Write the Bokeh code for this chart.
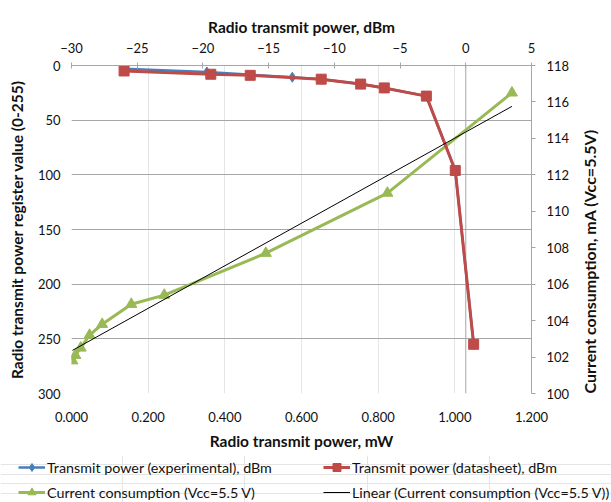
import math
import numpy as np
from bokeh.plotting import figure
from bokeh.layouts import column
from bokeh.models import (Range1d, LinearAxis, FixedTicker, NumeralTickFormatter,
                          Legend, LegendItem, Grid)
from bokeh.embed import file_html
from bokeh.resources import INLINE

# ---------------- data ----------------
dbm_experimental = [-26.0, -19.7, -13.2, -11.0, -8.0, -6.2, -3.0, -0.8, 0.6]
reg_experimental = [3, 6, 10.7, 12.5, 17, 20.5, 28, 96, 255]

dbm_datasheet = [-26.0, -19.4, -16.4, -11.0, -8.0, -6.2, -3.0, -0.8, 0.6]
reg_datasheet = [5, 8, 9, 12.5, 17, 20.5, 28, 96, 255]

mw_current = [0.0025, 0.010, 0.024, 0.047, 0.080, 0.156, 0.242, 0.507, 0.824, 1.149]
ma_current = [101.8, 102.1, 102.5, 103.2, 103.8, 104.9, 105.4, 107.7, 111.0, 116.5]

mw_ticks = [0.0, 0.2, 0.4, 0.6, 0.8, 1.0, 1.2]
dbm_ticks = [-30, -25, -20, -15, -10, -5, 0, 5]
reg_ticks = [0, 50, 100, 150, 200, 250, 300]
ma_ticks = [100, 102, 104, 106, 108, 110, 112, 114, 116, 118]

# linear trend of the current series (as Excel's "Linear" trendline)
slope, intercept = np.polyfit(mw_current, ma_current, 1)
trend_x = [min(mw_current), max(mw_current)]
trend_y = [slope * v + intercept for v in trend_x]

FONT = "Lato"
TXT = "#111111"
GRID = "#a6a6a6"
BLUE = "#4a7ebb"
RED = "#be4b48"
GREEN = "#98b954"

p = figure(width=611, height=455,
           x_range=Range1d(0, 1.2), y_range=Range1d(300, 0),
           output_backend="svg", toolbar_location=None,
           x_axis_location=None, y_axis_location=None,
           min_border_left=71, min_border_right=78,
           min_border_top=65, min_border_bottom=62)
p.extra_x_ranges = {"dbm": Range1d(-30, 5)}
p.extra_y_ranges = {"ma": Range1d(100, 118)}
p.outline_line_color = None
p.background_fill_color = "white"
p.border_fill_color = "white"

def style_axis(ax, title_size="15.5px"):
    ax.major_label_text_font = FONT
    ax.major_label_text_font_size = "13px"
    ax.major_label_text_color = TXT
    ax.axis_label_text_font = FONT
    ax.axis_label_text_font_size = title_size
    ax.axis_label_text_font_style = "bold"
    ax.axis_label_text_color = TXT
    ax.minor_tick_line_color = None
    ax.axis_line_color = GRID
    ax.major_tick_line_color = GRID

bottom = LinearAxis(ticker=FixedTicker(ticks=mw_ticks),
                    formatter=NumeralTickFormatter(format="0.000"),
                    axis_label="Radio transmit power, mW")
style_axis(bottom)
bottom.axis_line_color = None
bottom.major_tick_out = 0
bottom.major_tick_in = 0
bottom.major_label_standoff = 18
bottom.axis_label_standoff = 7
p.add_layout(bottom, "below")

left = LinearAxis(ticker=FixedTicker(ticks=reg_ticks),
                  axis_label="Radio transmit power register value (0-255)")
style_axis(left, "15.5px")
left.axis_line_color = None
left.major_tick_out = 0
left.major_tick_in = 0
left.major_label_standoff = 11
left.axis_label_standoff = 9
p.add_layout(left, "left")

top = LinearAxis(x_range_name="dbm", ticker=FixedTicker(ticks=dbm_ticks),
                 axis_label="Radio transmit power, dBm")
style_axis(top)
top.major_tick_out = 3
top.major_tick_in = 3
top.major_label_standoff = 10
top.axis_label_standoff = 4
p.add_layout(top, "above")

right = LinearAxis(y_range_name="ma", ticker=FixedTicker(ticks=ma_ticks),
                   axis_label="Current consumption, mA (Vcc=5.5V)")
style_axis(right, "16px")
right.major_tick_out = 4
right.major_tick_in = 0
right.major_label_standoff = 11
right.axis_label_standoff = 17
try:
    right.axis_label_orientation = math.pi / 2
except Exception:
    pass
try:
    right.axis_label_align = "start"
except Exception:
    pass
p.add_layout(right, "right")

p.add_layout(Grid(dimension=1, ticker=FixedTicker(ticks=reg_ticks),
                  grid_line_color=GRID, grid_line_width=1))

# vertical line at 0 dBm
p.segment(x0=[0], y0=[reg_ticks[0]], x1=[0], y1=[reg_ticks[-1]],
          x_range_name="dbm", line_color=GRID, line_width=1)

# series
p.line(mw_current, ma_current, y_range_name="ma", line_color=GREEN, line_width=3)
p.scatter(mw_current, ma_current, y_range_name="ma", marker="triangle",
          size=11, fill_color=GREEN, line_color=GREEN)

p.line(dbm_experimental, reg_experimental, x_range_name="dbm",
       line_color=BLUE, line_width=2.5)
p.scatter(dbm_experimental, reg_experimental, x_range_name="dbm",
          marker="diamond", size=10, fill_color=BLUE, line_color=BLUE)

p.line(dbm_datasheet, reg_datasheet, x_range_name="dbm",
       line_color=RED, line_width=3)
p.scatter(dbm_datasheet, reg_datasheet, x_range_name="dbm",
          marker="square", size=10, fill_color=RED, line_color=RED)

p.line(trend_x, trend_y, y_range_name="ma", line_color="black", line_width=1)

# ---------------- legend strip ----------------
p2 = figure(width=611, height=47, output_backend="svg", toolbar_location=None,
            x_axis_location=None, y_axis_location=None,
            x_range=Range1d(0, 1), y_range=Range1d(0, 1),
            min_border=0, min_border_left=0, min_border_right=0,
            min_border_top=0, min_border_bottom=0)
p2.outline_line_color = None
p2.background_fill_color = "white"
p2.border_fill_color = "white"
for fig in (p, p2):
    try:
        fig.frame_align = False
    except Exception:
        pass

# key-only renderers, kept outside the visible range of the strip
kx, ky = [5, 6], [5, 6]
b_line = p2.line(kx, ky, line_color=BLUE, line_width=2.5)
b_pts = p2.scatter(kx, ky, marker="diamond", size=10, fill_color=BLUE, line_color=BLUE)
r_line = p2.line(kx, ky, line_color=RED, line_width=3)
r_pts = p2.scatter(kx, ky, marker="square", size=10, fill_color=RED, line_color=RED)
g_line = p2.line(kx, ky, line_color=GREEN, line_width=3)
g_pts = p2.scatter(kx, ky, marker="triangle", size=11, fill_color=GREEN, line_color=GREEN)
t_line = p2.line(kx, ky, line_color="black", line_width=1)

def make_legend(items, loc):
    lg = Legend(items=items, location=loc)
    lg.padding = 0
    lg.margin = 0
    lg.spacing = 5
    lg.glyph_width = 27
    lg.glyph_height = 20
    lg.label_height = 20
    lg.label_standoff = 2
    lg.border_line_alpha = 0
    lg.background_fill_alpha = 0
    lg.label_text_font = FONT
    lg.label_text_font_size = "14.3px"
    lg.label_text_color = TXT
    return lg

legA = make_legend([
    LegendItem(label="Transmit power (experimental), dBm", renderers=[b_line, b_pts]),
    LegendItem(label="Current consumption (Vcc=5.5 V)", renderers=[g_line, g_pts]),
], (18, 0))
legB = make_legend([
    LegendItem(label="Transmit power (datasheet), dBm", renderers=[r_line, r_pts]),
    LegendItem(label="Linear (Current consumption (Vcc=5.5 V))", renderers=[t_line]),
], (323, 0))
p2.add_layout(legA)
p2.add_layout(legB)

layout = column(p, p2, spacing=0)
open("out.html", "w").write(file_html(layout, INLINE))
